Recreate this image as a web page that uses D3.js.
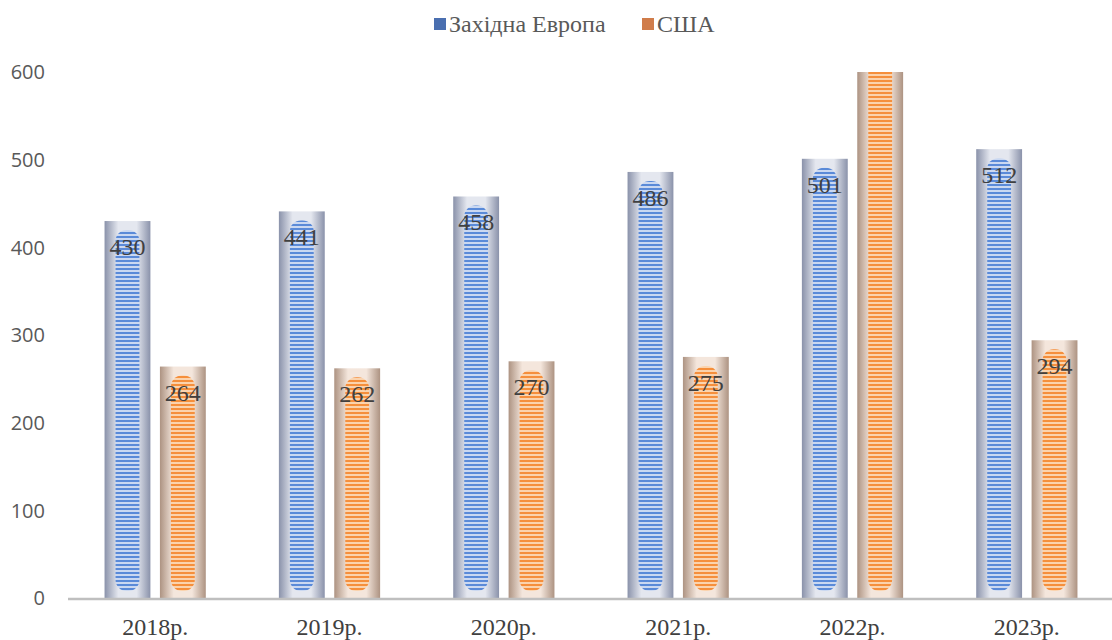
<!DOCTYPE html>
<html>
<head>
<meta charset="utf-8">
<script src="https://cdn.jsdelivr.net/npm/d3@7"></script>
<style>
  html, body { margin: 0; padding: 0; background: #fff; }
  svg { display: block; }
</style>
</head>
<body>
<svg id="chart" width="1112" height="640"></svg>
<script>
// Chart data
const years = ["2018р.", "2019р.", "2020р.", "2021р.", "2022р.", "2023р."];
const westernEurope = [430, 441, 458, 486, 501, 512];
const usa = [264, 262, 270, 275, 640, 294];
const seriesNames = ["Західна Европа", "США"];
const yTicks = [0, 100, 200, 300, 400, 500, 600];

const svg = d3.select("#chart");
const W = 1112, H = 640;
const margin = { left: 68, right: -2, top: 72, bottom: 42 };

const x0 = d3.scaleBand().domain(years).range([margin.left, W - margin.right]).padding(0);
const x1 = d3.scaleBand().domain(seriesNames).range([0, x0.bandwidth()]).paddingInner(0.172).paddingOuter(0.66);
const y = d3.scaleLinear().domain([0, 600]).range([H - margin.bottom, margin.top]);

const styles = {
  "Західна Европа": { edge: "#8a92aa", mid: "#e4e7ef", stripe: "#5a8ad8", gap: "#cad8f1", legend: "#4a6fb0" },
  "США": { edge: "#ad9382", mid: "#f4e6dc", stripe: "#f58f3c", gap: "#fbd3ad", legend: "#d07c4a" }
};

const defs = svg.append("defs");
seriesNames.forEach((name, i) => {
  const s = styles[name];
  const g = defs.append("linearGradient").attr("id", "frame" + i).attr("x1", 0).attr("x2", 1).attr("y1", 0).attr("y2", 0);
  g.append("stop").attr("offset", "0%").attr("stop-color", s.edge);
  g.append("stop").attr("offset", "30%").attr("stop-color", s.mid);
  g.append("stop").attr("offset", "70%").attr("stop-color", s.mid);
  g.append("stop").attr("offset", "100%").attr("stop-color", s.edge);
  const p = defs.append("pattern").attr("id", "stripes" + i).attr("patternUnits", "userSpaceOnUse")
    .attr("width", 8).attr("height", 4);
  p.append("rect").attr("width", 8).attr("height", 4).attr("fill", s.gap);
  p.append("rect").attr("width", 8).attr("height", 2).attr("fill", s.stripe);
});
defs.append("clipPath").attr("id", "plotClip").append("rect")
  .attr("x", 0).attr("y", y(600)).attr("width", W).attr("height", y(0) - y(600));

// Y axis tick labels
svg.append("g").selectAll("text").data(yTicks).join("text")
  .attr("x", 45).attr("y", d => y(d)).attr("dy", "0.36em")
  .attr("text-anchor", "end")
  .attr("font-family", "'Open Sans', sans-serif").attr("font-size", 20).attr("fill", "#595959")
  .text(d => d);

// Bars
const series = [westernEurope, usa];
const plot = svg.append("g").attr("clip-path", "url(#plotClip)");
const rows = years.flatMap((yr, j) => seriesNames.map((name, i) => ({ yr, name, i, v: series[i][j] })));

const bar = plot.selectAll("g.bar").data(rows).join("g").attr("class", "bar");
bar.append("rect")
  .attr("x", d => x0(d.yr) + x1(d.name))
  .attr("y", d => y(d.v))
  .attr("width", x1.bandwidth())
  .attr("height", d => y(0) - y(d.v))
  .attr("fill", d => `url(#frame${d.i})`);
bar.append("rect")
  .attr("x", d => x0(d.yr) + x1(d.name) + 11)
  .attr("y", d => y(d.v) + 9)
  .attr("width", x1.bandwidth() - 22)
  .attr("height", d => y(0) - y(d.v) - 16)
  .attr("rx", 11).attr("ry", 11)
  .attr("fill", d => `url(#stripes${d.i})`);

// Value labels
plot.selectAll("text.val").data(rows).join("text").attr("class", "val")
  .attr("x", d => x0(d.yr) + x1(d.name) + x1.bandwidth() / 2)
  .attr("y", d => y(d.v) + 34)
  .attr("text-anchor", "middle")
  .attr("font-family", "'Liberation Serif', 'Times New Roman', serif").attr("font-size", 24).attr("fill", "#404040")
  .text(d => d.v);

// X axis line and labels
svg.append("line").attr("x1", margin.left).attr("x2", W)
  .attr("y1", y(0) + 1).attr("y2", y(0) + 1)
  .attr("stroke", "#bfbfbf").attr("stroke-width", 2.5);
svg.append("g").selectAll("text").data(years).join("text")
  .attr("x", d => x0(d) + x0.bandwidth() / 2).attr("y", 635)
  .attr("text-anchor", "middle")
  .attr("font-family", "'Liberation Serif', 'Times New Roman', serif").attr("font-size", 24).attr("fill", "#404040")
  .text(d => d);

// Legend
const legend = svg.append("g");
const legendItems = [{ name: seriesNames[0], x: 434 }, { name: seriesNames[1], x: 642 }];
legendItems.forEach(it => {
  legend.append("rect").attr("x", it.x).attr("y", 18).attr("width", 12).attr("height", 12)
    .attr("fill", styles[it.name].legend);
  legend.append("text").attr("x", it.x + 15).attr("y", 32)
    .attr("font-family", "'Liberation Serif', 'Times New Roman', serif").attr("font-size", 24).attr("fill", "#595959")
    .text(it.name);
});
</script>
</body>
</html>
